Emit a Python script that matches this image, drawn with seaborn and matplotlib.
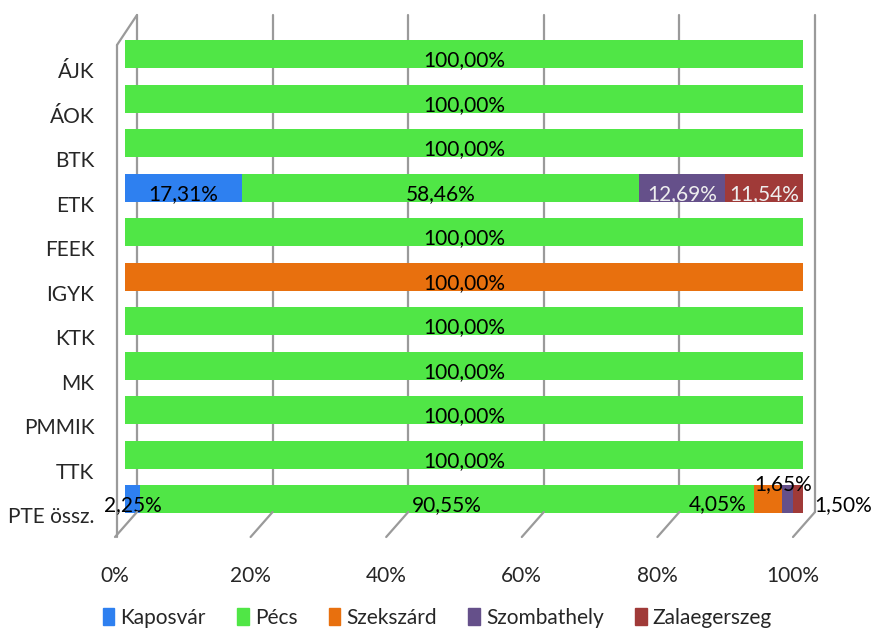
import numpy as np
import pandas as pd
import seaborn as sns
import matplotlib.pyplot as plt
import matplotlib.transforms as mtransforms
from matplotlib.patches import Patch
from matplotlib.lines import Line2D

# Adatok
karok = ["ÁJK", "ÁOK", "BTK", "ETK", "FEEK", "IGYK", "KTK", "MK", "PMMIK", "TTK", "PTE össz."]
telephelyek = ["Kaposvár", "Pécs", "Szekszárd", "Szombathely", "Zalaegerszeg"]
kaposvar = [0, 0, 0, 17.31, 0, 0, 0, 0, 0, 0, 2.25]
pecs = [100, 100, 100, 58.46, 100, 0, 100, 100, 100, 100, 90.55]
szekszard = [0, 0, 0, 0, 0, 100, 0, 0, 0, 0, 4.05]
szombathely = [0, 0, 0, 12.69, 0, 0, 0, 0, 0, 0, 1.65]
zalaegerszeg = [0, 0, 0, 11.54, 0, 0, 0, 0, 0, 0, 1.50]
szinek = ["#2E80F0", "#50E646", "#E8700E", "#65508A", "#A03A38"]
x_ticks = [0, 20, 40, 60, 80, 100]

df = pd.DataFrame({"kar": karok, "Kaposvár": kaposvar, "Pécs": pecs,
                   "Szekszárd": szekszard, "Szombathely": szombathely,
                   "Zalaegerszeg": zalaegerszeg})
cum = df[telephelyek].cumsum(axis=1)

sns.set_style("white")
plt.rcParams["font.family"] = ["Lato", "DejaVu Sans"]
plt.rcParams["font.size"] = 15

fig = plt.figure(figsize=(8.75, 6.3), dpi=100)
W, H = 875, 630
ax = fig.add_axes([125 / W, (H - 537) / H, (803 - 125) / W, (537 - 15) / H])

# Halmozott sávok (hátulról előre)
for t, c in reversed(list(zip(telephelyek, szinek))):
    sns.barplot(x=cum[t], y=df["kar"], color=c, orient="h", width=0.63,
                saturation=1, ax=ax, zorder=3, edgecolor="none")

ax.set_xlim(0, 100)
ax.set_ylim(10.85, -0.88)
ax.set_xlabel("")
ax.set_ylabel("")
for s in ax.spines.values():
    s.set_visible(False)

px = lambda p: p / 100.0  # pixel -> inch
def off(dx, dy):
    return mtransforms.ScaledTranslation(px(dx), px(dy), fig.dpi_scale_trans)

# Rácsvonalak (hátsó fal + padló)
gray = "#9A9A9A"
floor_frac = (537 - 512) / (537 - 15)
for xt in x_ticks:
    ax.plot([xt, xt], [floor_frac, 1], color=gray, lw=1.6, zorder=1,
            transform=ax.get_xaxis_transform() + off(12, 0), clip_on=False)
    p0 = ax.get_xaxis_transform().transform((xt, floor_frac)) + np.array([12, 0])
    p1 = ax.get_xaxis_transform().transform((xt, 0)) + np.array([-10, 0])
    fig.add_artist(Line2D([p0[0], p1[0]], [p0[1], p1[1]], color=gray, lw=1.6,
                          transform=None, zorder=1))
# Bal oldalfal
top_frac = (537 - 45) / (537 - 15)
ax.plot([0, 0], [0, top_frac], color=gray, lw=1.6, zorder=1,
        transform=ax.get_xaxis_transform() + off(-8, 0), clip_on=False)
q0 = ax.get_xaxis_transform().transform((0, top_frac)) + np.array([-8, 0])
q1 = ax.get_xaxis_transform().transform((0, 1)) + np.array([12, 0])
fig.add_artist(Line2D([q0[0], q1[0]], [q0[1], q1[1]], color=gray, lw=1.6,
                      transform=None, zorder=1))

# Tengelyfeliratok
ax.set_xticks(x_ticks)
ax.set_xticklabels([f"{v}%" for v in x_ticks])
ax.tick_params(axis="x", length=0, pad=21)
ax.tick_params(axis="y", length=0, pad=22)
for lab in ax.get_xticklabels():
    lab.set_transform(lab.get_transform() + off(-10, 0))
for lab in ax.get_yticklabels():
    lab.set_transform(lab.get_transform() + off(0, -16))

# Adatcímkék
kulon = {("PTE össz.", "Szekszárd"): (-50, -5),
         ("PTE össz.", "Szombathely"): (-4, 15),
         ("PTE össz.", "Zalaegerszeg"): (45, -6)}
for i, kar in enumerate(karok):
    left = 0
    for t in telephelyek:
        v = df.loc[i, t]
        if v > 0:
            dx, dy = kulon.get((kar, t), (0, -6))
            col = "#EEEEEE" if (kar == "ETK" and t in ("Szombathely", "Zalaegerszeg")) else "black"
            ax.annotate(f"{v:.2f}%".replace(".", ","), (left + v / 2, i),
                        xytext=(dx * 0.72, dy * 0.72), textcoords="offset points",
                        ha="center", va="center", color=col, zorder=5)
        left += v

# Jelmagyarázat
handles = [Patch(color=c, label=t) for t, c in zip(telephelyek, szinek)]
fig.legend(handles=handles, loc="center", bbox_to_anchor=(0.5, (H - 618) / H),
           ncol=5, frameon=False, handlelength=0.55, handleheight=0.9,
           handletextpad=0.3, columnspacing=1.5)

fig.savefig("out.png", dpi=100)
